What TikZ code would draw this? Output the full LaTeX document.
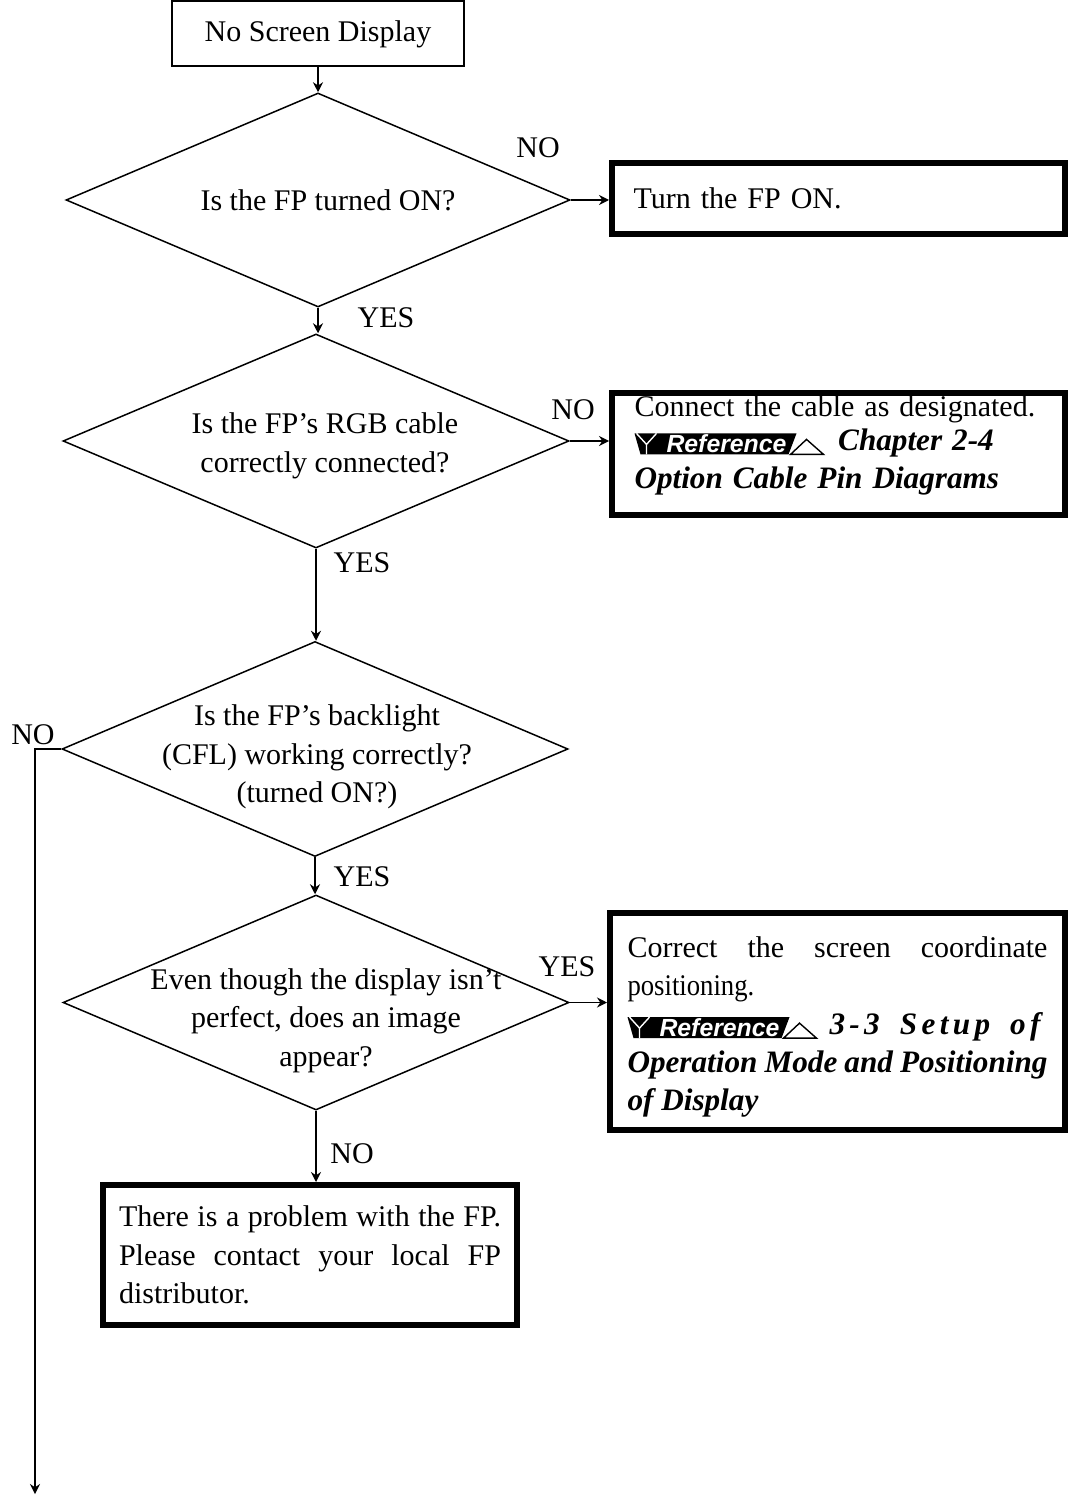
\documentclass[tikz,border=0pt]{standalone}
\usepackage{fontspec}
\usepackage{graphicx}
\setmainfont{Liberation Serif}
\newfontfamily\refsans{Liberation Sans}
\usetikzlibrary{arrows.meta,shapes.geometric,calc}

% black "Reference" tag used inside the answer boxes
\newcommand{\refbadge}{%
  \tikz[x=1pt,y=1pt,baseline=2pt,line width=0.7pt]{%
    \fill (0,10.5) -- (81,10.5) -- (77,0) -- (3,0) -- cycle;
    \draw[white] (1,10.5) -- (6,5) -- (11,10.5) (6,5) -- (6,0);
    \draw (78,0) -- (94.5,0) -- (86,7.5) -- cycle;
    \pgftext[at=\pgfpoint{46pt}{5.4pt}]{\color{white}\refsans\bfseries\itshape\fontsize{12.4}{12.4}\selectfont Reference};}}
\newcommand{\bi}[1]{\textbf{\textit{\fontsize{15.6}{19.2}\selectfont #1}}}

\begin{document}
\begin{tikzpicture}[x=0.5pt,y=-0.5pt,line width=0.75pt,
  font=\fontsize{15}{19.2}\selectfont,
  arr/.style={-{Stealth[length=5pt,width=5pt]}},
  startbox/.style={draw,line width=1pt,inner sep=0pt},
  box/.style={draw,line width=3pt,inner sep=0pt,align=left},
  test/.style 2 args={draw,diamond,inner sep=0pt,minimum width=#1,minimum height=#2},
  qtext/.style={align=center,inner sep=0pt},
  lbl/.style={inner sep=0pt}]
\useasboundingbox (0,0) rectangle (1070,1497);

\node[startbox,minimum width=146pt,minimum height=32.5pt] (start) at (318,34) {No Screen Display};

\node[test={252pt}{107pt},label={[qtext,name=q1,xshift=5pt]center:Is the FP turned ON?}] (d1) at (318,200) {};
\node[test={253pt}{107pt},label={[qtext,name=q2,xshift=4.5pt,yshift=-2.5pt]center:Is the FP's RGB cable\\correctly connected?}] (d2) at (316,441) {};
\node[test={253pt}{107.5pt},label={[qtext,name=q3,xshift=1pt,yshift=-4pt]center:Is the FP's backlight\\(CFL) working correctly?\\(turned ON?)}] (d3) at (315,749) {};
\node[test={253pt}{107.5pt},label={[qtext,name=q4,xshift=5pt,yshift=-9pt]center:Even though the display isn't\\perfect, does an image\\appear?}] (d4) at (316,1002.5) {};

\node[box,minimum width=226.5pt,minimum height=35.5pt,text width=205pt] (b1) at (838.5,198.5) {Turn the FP ON.};
\node[box,minimum width=226.5pt,minimum height=61pt,text width=204pt] (b2) at (838.5,454)
  {Connect the cable as designated.\\[-2pt] \refbadge\hspace{7pt}\bi{Chapter 2-4}\\ \bi{Option Cable Pin Diagrams}\rule[-12pt]{0pt}{12pt}};
\node[box,align=justify,minimum width=227.5pt,minimum height=108.5pt,text width=210pt] (b4) at (837.5,1021.5)
  {\rule{0pt}{16pt}Correct the screen coordinate\linebreak \scalebox{0.89}[1]{positioning.}\\ \refbadge\ \bi{\addfontfeature{LetterSpace=14}3-3 Setup of}\linebreak \bi{Operation Mode and Positioning}\linebreak \bi{of Display}};
\node[box,align=justify,minimum width=207pt,minimum height=70pt,text width=191pt] (b5) at (310,1255)
  {There is a problem with the FP.\linebreak Please contact your local FP\linebreak distributor.};

\coordinate (exit) at (35,1494);

\draw[arr] (start) -- (d1);
\draw[arr] (d1.east) -- (d1.east -| b1.west) node[lbl] at (538,148) {NO};
\draw[arr] (d1.south) -- (d1.south |- d2.north) node[lbl] at (386,318) {YES};
\draw[arr] (d2.east) -- (d2.east -| b2.west) node[lbl] at (573,410) {NO};
\draw[arr] (d2.south) -- (d2.south |- d3.north) node[lbl] at (362,563) {YES};
\draw[arr] (d3.west) -| (exit) node[lbl] at (33,735) {NO};
\draw[arr] (d3.south) -- (d3.south |- d4.north) node[lbl] at (362,877) {YES};
\draw[arr] (d4.east) -- (d4.east -| b4.west) node[lbl] at (567,967) {YES};
\draw[arr] (d4.south) -- (d4.south |- b5.north) node[lbl] at (352,1154) {NO};
\end{tikzpicture}
\end{document}
